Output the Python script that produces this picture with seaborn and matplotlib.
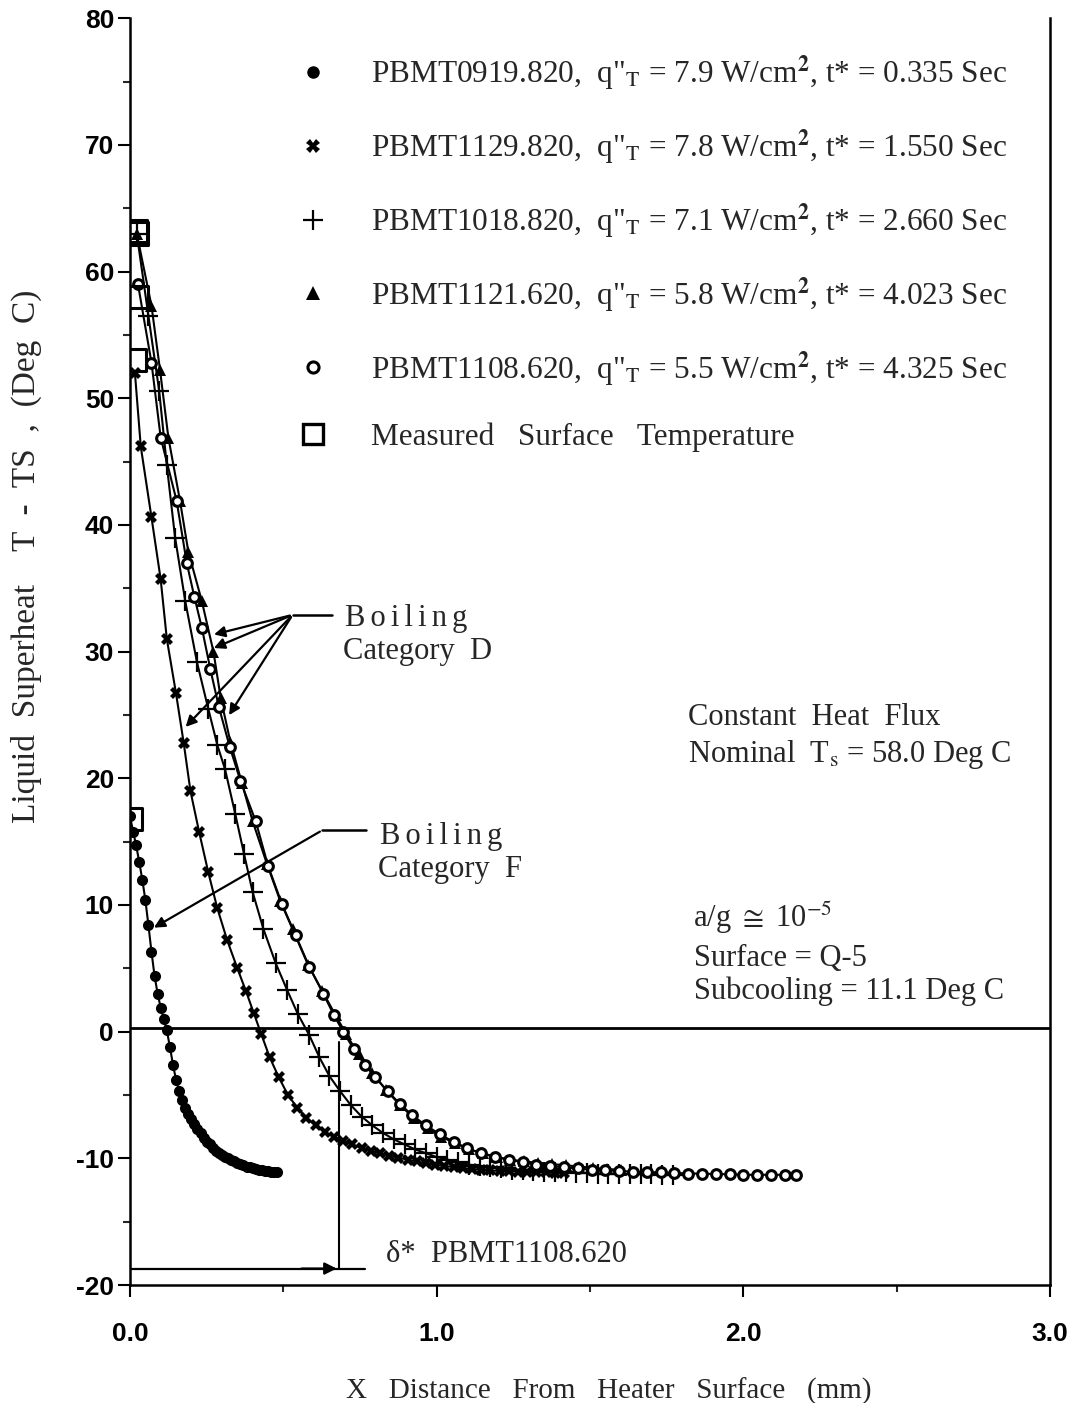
import numpy as np
import pandas as pd
import matplotlib
matplotlib.use("Agg")
import matplotlib.pyplot as plt
from matplotlib.lines import Line2D
from matplotlib.ticker import MultipleLocator, FormatStrFormatter
import seaborn as sns

sns.set_theme(style="ticks")
plt.rcParams['font.family'] = ['Liberation Serif', 'DejaVu Serif']
plt.rcParams['mathtext.fontset'] = 'stix'
plt.rcParams['axes.unicode_minus'] = False

# ---- data (x in mm, y in deg C) ----
x_0919 = [0.00, 0.01, 0.02, 0.03, 0.04, 0.05, 0.06, 0.07, 0.08, 0.09,
          0.10, 0.11, 0.12, 0.13, 0.14, 0.15, 0.16, 0.17, 0.18, 0.19,
          0.20, 0.21, 0.22, 0.23, 0.24, 0.25, 0.26, 0.27, 0.28, 0.29,
          0.30, 0.31, 0.32, 0.33, 0.34, 0.35, 0.36, 0.37, 0.38, 0.39,
          0.40, 0.41, 0.42, 0.43, 0.44, 0.45, 0.46, 0.47, 0.48]
y_0919 = [17.0, 15.8, 14.7, 13.4, 12.0, 10.4, 8.4, 6.3, 4.4, 3.0,
          1.9, 1.0, 0.1, -1.2, -2.6, -3.8, -4.7, -5.4, -6.0, -6.5,
          -6.9, -7.3, -7.7, -8.0, -8.4, -8.7, -8.9, -9.2, -9.4, -9.6,
          -9.7, -9.9, -10.0, -10.1, -10.25, -10.35, -10.45, -10.55, -10.65, -10.7,
          -10.8, -10.85, -10.9, -10.95, -11.0, -11.0, -11.05, -11.05, -11.05]

x_1129 = [0.016, 0.035, 0.070, 0.100, 0.120, 0.150, 0.175, 0.197, 0.225, 0.255,
          0.284, 0.317, 0.350, 0.378, 0.403, 0.428, 0.455, 0.485, 0.515, 0.545,
          0.575, 0.605, 0.635, 0.665, 0.695, 0.725, 0.755, 0.785, 0.815, 0.845,
          0.875, 0.905, 0.935, 0.965, 0.995, 1.025, 1.055, 1.085, 1.115, 1.145,
          1.175, 1.205, 1.235, 1.265, 1.295, 1.325, 1.355, 1.385, 1.415]
y_1129 = [52.0, 46.2, 40.6, 35.7, 31.0, 26.7, 22.8, 19.0, 15.8, 12.6,
          9.8, 7.2, 5.0, 3.2, 1.5, -0.2, -2.0, -3.6, -5.0, -6.0,
          -6.8, -7.4, -7.9, -8.3, -8.6, -8.9, -9.2, -9.4, -9.6, -9.8,
          -9.95, -10.1, -10.25, -10.4, -10.5, -10.6, -10.7, -10.8, -10.85, -10.9,
          -10.95, -11.0, -11.0, -11.05, -11.1, -11.1, -11.1, -11.15, -11.15]

x_1018 = [0.022, 0.060, 0.095, 0.120, 0.147, 0.180, 0.218, 0.255, 0.285, 0.310,
          0.343, 0.372, 0.400, 0.435, 0.475, 0.512, 0.547, 0.585, 0.617, 0.650,
          0.685, 0.720, 0.755, 0.790, 0.825, 0.860, 0.895, 0.930, 0.965, 1.000,
          1.035, 1.070, 1.105, 1.140, 1.175, 1.210, 1.245, 1.280, 1.315, 1.350,
          1.385, 1.420, 1.455, 1.490, 1.525, 1.560, 1.595, 1.630, 1.665, 1.700,
          1.735, 1.770]
y_1018 = [63.0, 56.5, 50.6, 44.7, 39.0, 34.0, 29.2, 25.5, 22.6, 20.7,
          17.2, 14.0, 11.0, 8.1, 5.4, 3.3, 1.4, -0.3, -2.0, -3.5,
          -4.7, -5.8, -6.7, -7.4, -8.0, -8.5, -8.9, -9.3, -9.6, -9.9,
          -10.1, -10.3, -10.5, -10.6, -10.7, -10.8, -10.9, -10.95, -11.0, -11.05,
          -11.1, -11.1, -11.15, -11.15, -11.2, -11.2, -11.2, -11.25, -11.25, -11.25,
          -11.3, -11.3]

x_1121 = [0.022, 0.070, 0.098, 0.125, 0.163, 0.190, 0.234, 0.272, 0.296, 0.327,
          0.365, 0.400, 0.447, 0.490, 0.530, 0.580, 0.627, 0.670, 0.705, 0.745,
          0.790, 0.835, 0.880, 0.925, 0.970, 1.015, 1.060, 1.105, 1.150, 1.195,
          1.240, 1.285, 1.330, 1.375, 1.420, 1.465, 1.510, 1.555, 1.600]
y_1121 = [63.0, 57.3, 52.2, 46.9, 41.9, 37.9, 34.0, 30.0, 26.3, 22.9,
          19.6, 16.6, 13.2, 10.3, 8.1, 5.3, 3.2, 1.3, -0.2, -1.8,
          -3.3, -4.6, -5.8, -6.8, -7.6, -8.3, -8.8, -9.3, -9.6, -9.9,
          -10.1, -10.25, -10.35, -10.45, -10.55, -10.65, -10.75, -10.85, -10.9]

x_1108 = [0.026, 0.070, 0.100, 0.152, 0.185, 0.210, 0.234, 0.262, 0.290, 0.325,
          0.360, 0.410, 0.450, 0.495, 0.540, 0.585, 0.630, 0.665, 0.695, 0.730,
          0.765, 0.800, 0.840, 0.880, 0.920, 0.965, 1.010, 1.055, 1.100, 1.145,
          1.190, 1.235, 1.280, 1.325, 1.370, 1.415, 1.460, 1.505, 1.550, 1.595,
          1.640, 1.685, 1.730, 1.775, 1.820, 1.865, 1.910, 1.955, 2.000, 2.045,
          2.090, 2.135, 2.170]
y_1108 = [59.0, 52.8, 46.9, 41.9, 37.0, 34.3, 31.9, 28.6, 25.6, 22.5,
          19.8, 16.6, 13.1, 10.1, 7.6, 5.1, 3.0, 1.3, 0.0, -1.4,
          -2.6, -3.6, -4.7, -5.7, -6.6, -7.4, -8.1, -8.7, -9.2, -9.6,
          -9.9, -10.1, -10.3, -10.5, -10.6, -10.7, -10.8, -10.9, -10.95, -11.0,
          -11.05, -11.1, -11.1, -11.15, -11.2, -11.2, -11.25, -11.25, -11.3, -11.3,
          -11.3, -11.3, -11.3]

x_surface = [0.023, 0.020, 0.022, 0.016, 0.004]
y_surface = [63.0, 63.2, 58.0, 53.0, 16.8]

labels = [
    'PBMT0919.820,  q"$_\\mathrm{T}$ = 7.9 W/cm$^\\mathbf{2}$, t* = 0.335 Sec',
    'PBMT1129.820,  q"$_\\mathrm{T}$ = 7.8 W/cm$^\\mathbf{2}$, t* = 1.550 Sec',
    'PBMT1018.820,  q"$_\\mathrm{T}$ = 7.1 W/cm$^\\mathbf{2}$, t* = 2.660 Sec',
    'PBMT1121.620,  q"$_\\mathrm{T}$ = 5.8 W/cm$^\\mathbf{2}$, t* = 4.023 Sec',
    'PBMT1108.620,  q"$_\\mathrm{T}$ = 5.5 W/cm$^\\mathbf{2}$, t* = 4.325 Sec',
    'Measured   Surface   Temperature',
]

delta_star_x = 0.683
zero_line_y = 0.3
spaced_boiling = '\u2006'.join('Boiling')

fig = plt.figure(figsize=(10.79, 14.03), dpi=100)
ax = fig.add_axes([0.1205, 0.0841, 0.8527, 0.9029])

series = [
    (x_0919, y_0919, dict(marker='o', markersize=8, markerfacecolor='black', markeredgewidth=0)),
    (x_1129, y_1129, dict(marker='X', markersize=9, markerfacecolor='black', markeredgewidth=0)),
    (x_1018, y_1018, dict(marker='+', markersize=14, markeredgewidth=1.6)),
    (x_1121, y_1121, dict(marker='^', markersize=9, markerfacecolor='black', markeredgewidth=0)),
    (x_1108, y_1108, dict(marker='o', markersize=7, markerfacecolor='white', markeredgewidth=2.2)),
]
legend_sizes = [9, 10, 15, 10, 8]
handles = []
for (xs, ys, style), ms in zip(series, legend_sizes):
    sns.lineplot(x=xs, y=ys, ax=ax, color='black', linewidth=1.5, sort=False,
                 markeredgecolor='black', **style)
    hstyle = dict(style, markersize=ms)
    handles.append(Line2D([], [], linestyle='none', color='black', markeredgecolor='black', **hstyle))

sns.scatterplot(x=x_surface, y=y_surface, ax=ax, marker='s', s=260,
                facecolor='none', edgecolor='black', linewidth=2.2, zorder=5)
handles.append(Line2D([], [], linestyle='none', marker='s', markersize=15,
                      markerfacecolor='none', markeredgecolor='black', markeredgewidth=2.4))

ax.axhline(zero_line_y, color='black', linewidth=2)

# delta* marker for PBMT1108.620
ax.plot([delta_star_x, delta_star_x], [-0.8, -18.7], color='black', linewidth=1.5)
ax.plot([0, 0.765], [-18.7, -18.7], color='black', linewidth=1.6)
ax.annotate('', xy=(delta_star_x, -18.7), xytext=(0.55, -18.7),
            arrowprops=dict(arrowstyle='-|>', color='black', lw=1.6, mutation_scale=18))
ax.text(0.835, -17.6, 'δ*  PBMT1108.620', fontsize=22, va='center', ha='left')

# Boiling category D
jd = (0.53, 32.9)
ax.plot([jd[0], 0.66], [jd[1], jd[1]], color='black', linewidth=1.8)
for tgt in [(0.265, 31.3), (0.265, 30.2), (0.175, 23.9), (0.318, 24.8)]:
    ax.annotate('', xy=tgt, xytext=jd,
                arrowprops=dict(arrowstyle='-|>', color='black', lw=1.6, mutation_scale=16))
ax.text(0.70, 32.6, spaced_boiling, fontsize=22, va='center', ha='left')
ax.text(0.695, 30.0, 'Category  D', fontsize=22, va='center', ha='left')

# Boiling category F
jf = (0.627, 15.9)
ax.plot([jf[0], 0.77], [jf[1], jf[1]], color='black', linewidth=1.8)
ax.annotate('', xy=(0.07, 8.1), xytext=jf,
            arrowprops=dict(arrowstyle='-|>', color='black', lw=1.6, mutation_scale=16))
ax.text(0.815, 15.4, spaced_boiling, fontsize=22, va='center', ha='left')
ax.text(0.81, 12.8, 'Category  F', fontsize=22, va='center', ha='left')

ax.text(1.82, 24.8, 'Constant  Heat  Flux', fontsize=22, va='center', ha='left')
ax.text(1.82, 21.9, 'Nominal  T$_\\mathrm{s}$ = 58.0 Deg C', fontsize=22, va='center', ha='left')
ax.text(1.835, 9.0, 'a/g $\\cong$ 10$^{-5}$', fontsize=22, va='center', ha='left')
ax.text(1.84, 5.8, 'Surface = Q-5', fontsize=22, va='center', ha='left')
ax.text(1.84, 3.2, 'Subcooling = 11.1 Deg C', fontsize=22, va='center', ha='left')

leg = ax.legend(handles=handles, labels=labels, loc='upper left',
                bbox_to_anchor=(0.168, 0.982), frameon=False, fontsize=22.5,
                labelspacing=1.1, handlelength=1.0, handletextpad=1.35,
                borderaxespad=0)

ax.set_xlim(0, 3.0)
ax.set_ylim(-20, 80)
ax.xaxis.set_major_locator(MultipleLocator(1.0))
ax.xaxis.set_minor_locator(MultipleLocator(0.5))
ax.yaxis.set_major_locator(MultipleLocator(10))
ax.yaxis.set_minor_locator(MultipleLocator(5))
ax.xaxis.set_major_formatter(FormatStrFormatter('%.1f'))
ax.tick_params(axis='both', which='major', direction='out', length=8.5, width=1.5, colors='black')
ax.tick_params(axis='both', which='minor', direction='out', length=5, width=1.5)
ax.tick_params(axis='x', which='major', pad=18)
ax.tick_params(axis='y', which='major', pad=3)
for lab in ax.get_xticklabels() + ax.get_yticklabels():
    lab.set_family(['Liberation Sans', 'DejaVu Sans'])
    lab.set_fontsize(19)
    lab.set_fontweight('bold')

for side in ['left', 'bottom', 'right']:
    ax.spines[side].set_linewidth(1.8)
    ax.spines[side].set_color('black')
ax.spines['top'].set_visible(False)

ax.set_xlabel('X   Distance   From   Heater   Surface   (mm)', fontsize=21)
ax.xaxis.set_label_coords(0.52, -0.073)
ax.set_ylabel('Liquid  Superheat    T  -  TS  ,  (Deg  C)', fontsize=24)
ax.yaxis.set_label_coords(-0.096, 0.575)

fig.savefig('out.png', dpi=100, facecolor='white')
